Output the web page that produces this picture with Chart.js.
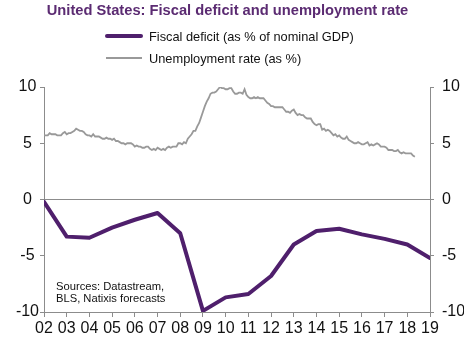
<!DOCTYPE html>
<html>
<head>
<meta charset="utf-8">
<script src="https://cdn.jsdelivr.net/npm/chart.js@4"></script>
<style>
  html, body { margin: 0; padding: 0; background: #fff; }
  #wrap { position: relative; width: 464px; height: 342px; overflow: hidden; font-family: "Liberation Sans", Arial, sans-serif; }
  #chart { position: absolute; left: 0; top: 0; }
  .title { position: absolute; left: 0; width: 455px; top: 2px; text-align: center; font-weight: bold; font-size: 14.7px; color: #5b2b72; white-space: nowrap; }
  .leg { position: absolute; left: 149px; font-size: 12.8px; color: #111; white-space: nowrap; line-height: 16px; }
  .sw { position: absolute; }
  .note { position: absolute; left: 56px; top: 281px; font-size: 11.2px; line-height: 11.7px; color: #111; white-space: nowrap; }
</style>
</head>
<body>
<div id="wrap">
  <canvas id="chart" width="464" height="342"></canvas>
  <div class="title">United States: Fiscal deficit and unemployment rate</div>
  <div class="sw" style="left:105px;top:34px;width:38px;height:4px;background:#4f1f6c;border-radius:2px;"></div>
  <div class="leg" style="top:29px;">Fiscal deficit (as % of nominal GDP)</div>
  <div class="sw" style="left:106px;top:57px;width:36px;height:2px;background:#999;"></div>
  <div class="leg" style="top:51px;">Unemployment rate (as %)</div>
  <div class="note">Sources: Datastream,<br>BLS, Natixis forecasts</div>
</div>
<script>
// Years on the horizontal axis
const years = [2002, 2003, 2004, 2005, 2006, 2007, 2008, 2009, 2010, 2011,
               2012, 2013, 2014, 2015, 2016, 2017, 2018, 2019];

// Federal balance, % of nominal GDP (2018-2019 forecasts)
const fiscalDeficit = [-0.2, -3.3, -3.4, -2.5, -1.8, -1.2, -3.0, -9.9, -8.7, -8.4,
                       -6.8, -4.0, -2.8, -2.6, -3.1, -3.5, -4.0, -5.2];

// Monthly unemployment rate (%), one row per year starting Jan 2002
const unemployment = [
  [5.7, 5.7, 5.7, 5.9, 5.8, 5.8, 5.8, 5.7, 5.7, 5.7, 5.9, 6.0],
  [5.8, 5.9, 5.9, 6.0, 6.1, 6.3, 6.2, 6.1, 6.1, 6.0, 5.8, 5.7],
  [5.7, 5.6, 5.8, 5.6, 5.6, 5.6, 5.5, 5.4, 5.4, 5.5, 5.4, 5.4],
  [5.3, 5.4, 5.2, 5.2, 5.1, 5.0, 5.0, 4.9, 5.0, 5.0, 5.0, 4.9],
  [4.7, 4.8, 4.7, 4.7, 4.6, 4.6, 4.7, 4.7, 4.5, 4.4, 4.5, 4.4],
  [4.6, 4.5, 4.4, 4.5, 4.4, 4.6, 4.7, 4.6, 4.7, 4.7, 4.7, 5.0],
  [5.0, 4.9, 5.1, 5.0, 5.4, 5.6, 5.8, 6.1, 6.1, 6.5, 6.8, 7.3],
  [7.8, 8.3, 8.7, 9.0, 9.4, 9.5, 9.5, 9.6, 9.8, 10.0, 9.9, 9.9],
  [9.8, 9.8, 9.9, 9.9, 9.6, 9.4, 9.4, 9.5, 9.5, 9.4, 9.8, 9.3],
  [9.1, 9.0, 9.0, 9.1, 9.0, 9.1, 9.0, 9.0, 9.0, 8.8, 8.6, 8.5],
  [8.3, 8.3, 8.2, 8.2, 8.2, 8.2, 8.2, 8.0, 7.8, 7.8, 7.7, 7.9],
  [8.0, 7.7, 7.5, 7.6, 7.5, 7.5, 7.3, 7.2, 7.2, 7.2, 6.9, 6.7],
  [6.6, 6.7, 6.7, 6.2, 6.3, 6.1, 6.2, 6.1, 5.9, 5.7, 5.8, 5.6],
  [5.7, 5.5, 5.4, 5.4, 5.6, 5.3, 5.2, 5.1, 5.0, 5.0, 5.1, 5.0],
  [4.9, 4.9, 5.0, 5.1, 4.8, 4.9, 4.8, 4.9, 5.0, 4.9, 4.7, 4.7],
  [4.7, 4.6, 4.4, 4.4, 4.4, 4.3, 4.3, 4.4, 4.2, 4.1, 4.2, 4.1],
  [4.1, 4.1, 4.1, 3.9, 3.8]
];

// Left and right value axis ticks
const yTicks = [-10, -5, 0, 5, 10];

const fiscalPoints = years.map((yr, i) => ({ x: yr, y: fiscalDeficit[i] }));
const unemploymentPoints = [];
unemployment.forEach((row, yi) => {
  row.forEach((v, m) => unemploymentPoints.push({ x: years[0] + yi + m / 12, y: v }));
});

const axisColor = '#8c8c8c';
const tickFont = { family: '"Liberation Sans", Arial, sans-serif', size: 16 };

new Chart(document.getElementById('chart'), {
  type: 'line',
  data: {
    datasets: [
      {
        label: 'Unemployment rate (as %)',
        data: unemploymentPoints,
        borderColor: '#999999',
        borderWidth: 1.8,
        pointRadius: 0,
        tension: 0,
        yAxisID: 'y2'
      },
      {
        label: 'Fiscal deficit (as % of nominal GDP)',
        data: fiscalPoints,
        borderColor: '#4f1f6c',
        borderWidth: 4,
        borderCapStyle: 'round',
        borderJoinStyle: 'round',
        pointRadius: 0,
        tension: 0,
        yAxisID: 'y'
      }
    ]
  },
  options: {
    responsive: false,
    animation: false,
    layout: { padding: { top: 87, right: 0, bottom: 0, left: 0 } },
    plugins: { legend: { display: false }, tooltip: { enabled: false }, title: { display: false } },
    scales: {
      x: {
        type: 'linear',
        min: years[0],
        max: years[years.length - 1],
        afterBuildTicks: (s) => { s.ticks = years.map(v => ({ value: v })); },
        ticks: {
          autoSkip: false,
          maxRotation: 0,
          padding: 2,
          color: '#111',
          font: tickFont,
          callback: (v) => String(v % 100).padStart(2, '0')
        },
        grid: { drawOnChartArea: false, tickLength: 5, tickColor: axisColor },
        border: { color: axisColor, width: 1 },
        afterFit: (s) => { s.height = 30; }
      },
      y: {
        position: 'left',
        min: -10,
        max: 10,
        afterBuildTicks: (s) => { s.ticks = yTicks.map(v => ({ value: v })); },
        ticks: { padding: 1, crossAlign: 'center', color: '#111', font: tickFont },
        grid: {
          color: (c) => (c.tick && c.tick.value === 0 ? axisColor : 'rgba(0,0,0,0)'),
          tickColor: axisColor,
          tickLength: 4,
          lineWidth: 1
        },
        border: { color: axisColor, width: 1 },
        afterFit: (s) => { s.width = 44; }
      },
      y2: {
        position: 'right',
        min: -10,
        max: 10,
        afterBuildTicks: (s) => { s.ticks = yTicks.map(v => ({ value: v })); },
        ticks: { padding: 8, color: '#111', font: tickFont },
        grid: { drawOnChartArea: false, tickColor: axisColor, tickLength: 4 },
        border: { color: axisColor, width: 1 },
        afterFit: (s) => { s.width = 34; }
      }
    }
  }
});
</script>
</body>
</html>
